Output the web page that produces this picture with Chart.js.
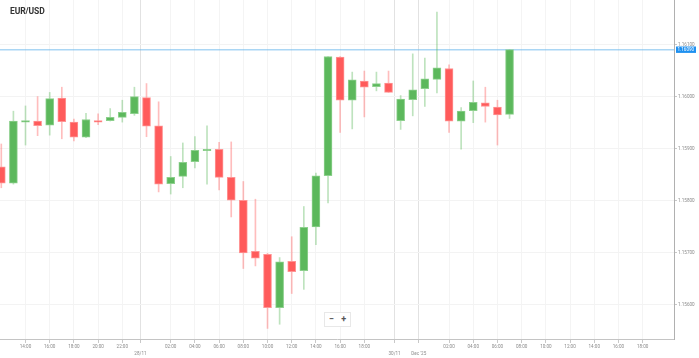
<!DOCTYPE html>
<html><head><meta charset="utf-8">
<script src="https://cdn.jsdelivr.net/npm/chart.js@4/dist/chart.umd.min.js"></script>
<style>
html,body{margin:0;padding:0;background:#fff;overflow:hidden;}
#wrap{position:relative;width:699px;height:358px;}
#title{position:absolute;left:10px;top:6px;font:bold 8.5px Roboto,sans-serif;color:#333;letter-spacing:-0.1px;}
#zoomctl{position:absolute;left:324px;top:312px;width:25px;height:13px;border:1px solid #e8e8e8;background:#fff;font:bold 9px Roboto,sans-serif;color:#555;display:flex;justify-content:space-around;align-items:center;line-height:13px;}
</style></head>
<body><div id="wrap"><canvas id="c" width="699" height="358"></canvas><div id="title">EUR/USD</div><div id="zoomctl"><span>−</span><span>+</span></div></div>
<script>
// Hourly candles, 27 Nov 12:00 → 1 Dec 07:00 (weekend skipped)
const opens  = [1.15865,1.15834,1.15951,1.15953,1.15945,1.15997,1.15951,1.15922,1.15954,1.15954,1.15960,1.15967,1.15998,1.15944,1.15833,1.15847,1.15875,1.15896,1.15899,1.15845,1.15801,1.15703,1.15697,1.15595,1.15684,1.15666,1.15750,1.15848,1.16076,1.15993,1.16030,1.16019,1.16026,1.15954,1.15994,1.16015,1.16033,1.16054,1.15953,1.15973,1.15988,1.15980,1.15966];
const highs  = [1.15909,1.15972,1.15982,1.16000,1.16008,1.16018,1.15957,1.15968,1.15967,1.15977,1.15993,1.16018,1.16025,1.15990,1.15885,1.15911,1.15923,1.15944,1.15912,1.15913,1.15837,1.15803,1.15699,1.15691,1.15731,1.15789,1.15853,1.16077,1.16077,1.16047,1.16049,1.16047,1.16049,1.16002,1.16082,1.16074,1.16162,1.16061,1.15979,1.16030,1.16018,1.15993,1.16090];
const lows   = [1.15825,1.15832,1.15907,1.15925,1.15926,1.15919,1.15915,1.15921,1.15946,1.15953,1.15951,1.15964,1.15923,1.15817,1.15813,1.15825,1.15863,1.15832,1.15821,1.15769,1.15670,1.15675,1.15555,1.15563,1.15622,1.15630,1.15716,1.15796,1.15931,1.15938,1.15961,1.16011,1.16008,1.15937,1.15963,1.15981,1.16007,1.15931,1.15899,1.15950,1.15951,1.15907,1.15958];
const closes = [1.15834,1.15953,1.15954,1.15944,1.15996,1.15952,1.15922,1.15956,1.15951,1.15960,1.15970,1.16000,1.15943,1.15832,1.15845,1.15874,1.15897,1.15899,1.15845,1.15801,1.15700,1.15690,1.15595,1.15683,1.15664,1.15749,1.15848,1.16077,1.15993,1.16032,1.16018,1.16025,1.16008,1.15995,1.16013,1.16034,1.16055,1.15953,1.15972,1.15989,1.15981,1.15965,1.16090];

// x-axis ticks (candle-index units) and their labels
const xTickPos    = [2,4,6,8,10,11.5,14,16,18,20,22,24,26,28,30,32.5,34.5,37,39,41,43,45,47,49,51,53];
const xTickLabels = ['14:00','16:00','18:00','20:00','22:00','28/11','02:00','04:00','06:00','08:00','10:00','12:00','14:00','16:00','18:00','30/11',"Dec '25",'02:00','04:00','06:00','08:00','10:00','12:00','14:00','16:00','18:00'];
const dayTicks    = [11.5,32.5,34.5];
const yTickValues = [1.156,1.157,1.158,1.159,1.160,1.161];

const GREEN='#5cb85c', RED='#ff5b5b';
const up = opens.map((o,i)=>closes[i]>=o);

Chart.defaults.font.family='Roboto, sans-serif';

const priceLine = {
  id:'priceLine',
  beforeDatasetsDraw(chart){
    const {ctx,chartArea,scales}=chart;
    const y=scales.y.getPixelForValue(closes[closes.length-1]);
    ctx.save();ctx.strokeStyle='rgba(100,180,235,0.55)';ctx.lineWidth=1.5;
    ctx.beginPath();ctx.moveTo(chartArea.left,y);ctx.lineTo(chartArea.right,y);ctx.stroke();ctx.restore();
  },
  afterDraw(chart){
    const {ctx,chartArea,scales}=chart;
    const v=closes[closes.length-1];
    const y=scales.y.getPixelForValue(v);
    ctx.save();
    ctx.fillStyle='#1e90f0';
    ctx.fillRect(chartArea.right+2,y-3.2,20,6.4);
    ctx.fillStyle='#fff';ctx.font='4.6px Roboto, sans-serif';ctx.textBaseline='middle';ctx.textAlign='left';
    ctx.fillText(v.toFixed(5),chartArea.right+3.5,y+0.2);
    ctx.restore();
  }
};

new Chart(document.getElementById('c'),{
  type:'bar',
  data:{datasets:[
    {label:'body',data:opens.map((o,i)=>({x:i,y:[o,closes[i]]})),
     backgroundColor:up.map(u=>u?GREEN:RED),borderColor:up.map(u=>u?'#8dd08d':'#ff9494'),
     borderWidth:1,borderSkipped:false,barThickness:8,grouped:false,order:1,minBarLength:1.5},
    {label:'wick',data:lows.map((l,i)=>({x:i,y:[l,highs[i]]})),
     backgroundColor:up.map(u=>u?'rgba(92,184,92,0.4)':'rgba(255,91,91,0.4)'),
     borderWidth:0,barThickness:1,grouped:false,order:2}
  ]},
  options:{
    responsive:false,animation:false,devicePixelRatio:1,
    layout:{padding:0},
    plugins:{legend:{display:false},tooltip:{enabled:false}},
    scales:{
      x:{type:'linear',min:-0.107,max:55.59,offset:false,
        grid:{offset:false,color:c=>(c.tick&&dayTicks.includes(c.tick.value))?'#e2e2e2':'#f4f4f4',lineWidth:1,tickLength:4,tickColor:'#c8c8c8'},
        border:{color:'#c4c4c4'},
        ticks:{autoSkip:false,maxRotation:0,padding:1,color:'#8a8a8a',font:{size:4.6,lineHeight:1.4},
          callback:(v)=>{const k=xTickPos.indexOf(v);if(k<0)return '';return dayTicks.includes(v)?['',xTickLabels[k]]:xTickLabels[k];}},
        afterBuildTicks:a=>{a.ticks=xTickPos.map(v=>({value:v}));},
        afterFit:a=>{a.height=19;a.paddingLeft=0;a.paddingRight=0;}
      },
      y:{type:'linear',position:'right',min:1.155347,max:1.161854,beginAtZero:false,
        grid:{color:'#f3f3f3',tickLength:3,tickColor:'#c8c8c8'},
        border:{color:'#b0b0b0'},
        ticks:{padding:1,color:'#8a8a8a',font:{size:4.6},callback:v=>v.toFixed(5)},
        afterBuildTicks:a=>{a.ticks=yTickValues.map(v=>({value:v}));},
        afterFit:a=>{a.width=25;a.paddingTop=0;a.paddingBottom=0;}
      }
    }
  },
  plugins:[priceLine]
});
</script>
</body></html>
